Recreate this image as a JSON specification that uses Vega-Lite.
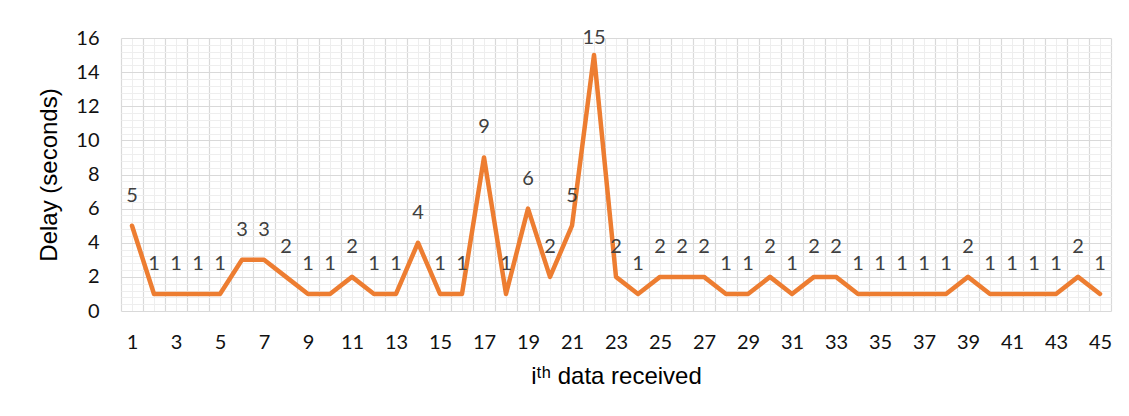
{
  "$schema": "https://vega.github.io/schema/vega-lite/v6.json",
  "autosize": "none",
  "width": 990,
  "height": 273,
  "padding": {"left": 121, "top": 38, "right": 18, "bottom": 105},
  "background": "white",
  "config": {"view": {"stroke": null}},
  "data": {"values": [
    {"i": 1, "delay": 5}, {"i": 2, "delay": 1}, {"i": 3, "delay": 1}, {"i": 4, "delay": 1}, {"i": 5, "delay": 1},
    {"i": 6, "delay": 3}, {"i": 7, "delay": 3}, {"i": 8, "delay": 2}, {"i": 9, "delay": 1}, {"i": 10, "delay": 1},
    {"i": 11, "delay": 2}, {"i": 12, "delay": 1}, {"i": 13, "delay": 1}, {"i": 14, "delay": 4}, {"i": 15, "delay": 1},
    {"i": 16, "delay": 1}, {"i": 17, "delay": 9}, {"i": 18, "delay": 1}, {"i": 19, "delay": 6}, {"i": 20, "delay": 2},
    {"i": 21, "delay": 5}, {"i": 22, "delay": 15}, {"i": 23, "delay": 2}, {"i": 24, "delay": 1}, {"i": 25, "delay": 2},
    {"i": 26, "delay": 2}, {"i": 27, "delay": 2}, {"i": 28, "delay": 1}, {"i": 29, "delay": 1}, {"i": 30, "delay": 2},
    {"i": 31, "delay": 1}, {"i": 32, "delay": 2}, {"i": 33, "delay": 2}, {"i": 34, "delay": 1}, {"i": 35, "delay": 1},
    {"i": 36, "delay": 1}, {"i": 37, "delay": 1}, {"i": 38, "delay": 1}, {"i": 39, "delay": 2}, {"i": 40, "delay": 1},
    {"i": 41, "delay": 1}, {"i": 42, "delay": 1}, {"i": 43, "delay": 1}, {"i": 44, "delay": 2}, {"i": 45, "delay": 1}
  ]},
  "resolve": {"axis": {"x": "independent", "y": "independent"}},
  "layer": [
    {
      "mark": {"type": "line", "opacity": 0},
      "encoding": {
        "x": {"field": "i", "type": "quantitative", "scale": {"domain": [0.5, 45.5], "nice": false, "zero": false},
          "axis": {"orient": "bottom", "values": [1,2,3,4,5,6,7,8,9,10,11,12,13,14,15,16,17,18,19,20,21,22,23,24,25,26,27,28,29,30,31,32,33,34,35,36,37,38,39,40,41,42,43,44,45],
            "grid": true, "gridColor": "#eeeeee", "gridWidth": 1, "labels": false, "ticks": false, "domain": false, "title": null}},
        "y": {"field": "delay", "type": "quantitative", "scale": {"domain": [0, 16], "nice": false},
          "axis": {"orient": "left", "values": [0.4,0.8,1.2,1.6,2.4,2.8,3.2,3.6,4.4,4.8,5.2,5.6,6.4,6.8,7.2,7.6,8.4,8.8,9.2,9.6,10.4,10.8,11.2,11.6,12.4,12.8,13.2,13.6,14.4,14.8,15.2,15.6],
            "grid": true, "gridColor": "#eeeeee", "gridWidth": 1, "labels": false, "ticks": false, "domain": false, "title": null}}
      }
    },
    {
      "mark": {"type": "line", "opacity": 0},
      "encoding": {
        "x": {"field": "i", "type": "quantitative",
          "axis": {"orient": "bottom", "values": [0.5,1.5,2.5,3.5,4.5,5.5,6.5,7.5,8.5,9.5,10.5,11.5,12.5,13.5,14.5,15.5,16.5,17.5,18.5,19.5,20.5,21.5,22.5,23.5,24.5,25.5,26.5,27.5,28.5,29.5,30.5,31.5,32.5,33.5,34.5,35.5,36.5,37.5,38.5,39.5,40.5,41.5,42.5,43.5,44.5,45.5],
            "grid": true, "gridColor": "#d9d9d9", "gridWidth": 1.2, "labels": false, "ticks": false, "domain": false, "title": null}},
        "y": {"field": "delay", "type": "quantitative",
          "axis": {"orient": "left", "values": [0,2,4,6,8,10,12,14,16], "grid": true, "gridColor": "#d9d9d9", "gridWidth": 1.2,
            "ticks": false, "domain": false, "labelFont": "Lato", "labelFontSize": 20, "labelColor": "#111111", "labelPadding": 22,
            "title": "Delay (seconds)", "titleFont": "Liberation Sans", "titleFontSize": 24, "titleFontWeight": "normal", "titleColor": "#000000", "titlePadding": 14}}
      }
    },
    {
      "mark": {"type": "line", "color": "#ED7D31", "strokeWidth": 4.5, "strokeJoin": "round", "strokeCap": "round"},
      "encoding": {
        "x": {"field": "i", "type": "quantitative",
          "axis": {"orient": "bottom", "values": [1,3,5,7,9,11,13,15,17,19,21,23,25,27,29,31,33,35,37,39,41,43,45],
            "grid": false, "ticks": false, "domain": false, "labelFlush": false, "labelBound": false, "labelOverlap": false,
            "labelFont": "Lato", "labelFontSize": 20, "labelColor": "#111111", "labelPadding": 21,
            "title": "iᵗʰ data received", "titleFont": "Liberation Sans", "titleFontSize": 24, "titleFontWeight": "normal", "titleColor": "#000000", "titlePadding": 12}},
        "y": {"field": "delay", "type": "quantitative", "axis": null}
      }
    },
    {
      "transform": [{"filter": "datum.delay <= 12"}],
      "mark": {"type": "text", "font": "Lato", "fontSize": 20, "color": "#404040", "baseline": "alphabetic", "dy": -24},
      "encoding": {
        "x": {"field": "i", "type": "quantitative", "axis": null},
        "y": {"field": "delay", "type": "quantitative", "axis": null},
        "text": {"field": "delay", "type": "quantitative"}
      }
    },
    {
      "transform": [{"filter": "datum.delay > 12"}],
      "mark": {"type": "text", "font": "Lato", "fontSize": 20, "color": "#404040", "baseline": "alphabetic", "dy": -11},
      "encoding": {
        "x": {"field": "i", "type": "quantitative", "axis": null},
        "y": {"field": "delay", "type": "quantitative", "axis": null},
        "text": {"field": "delay", "type": "quantitative"}
      }
    }
  ]
}
